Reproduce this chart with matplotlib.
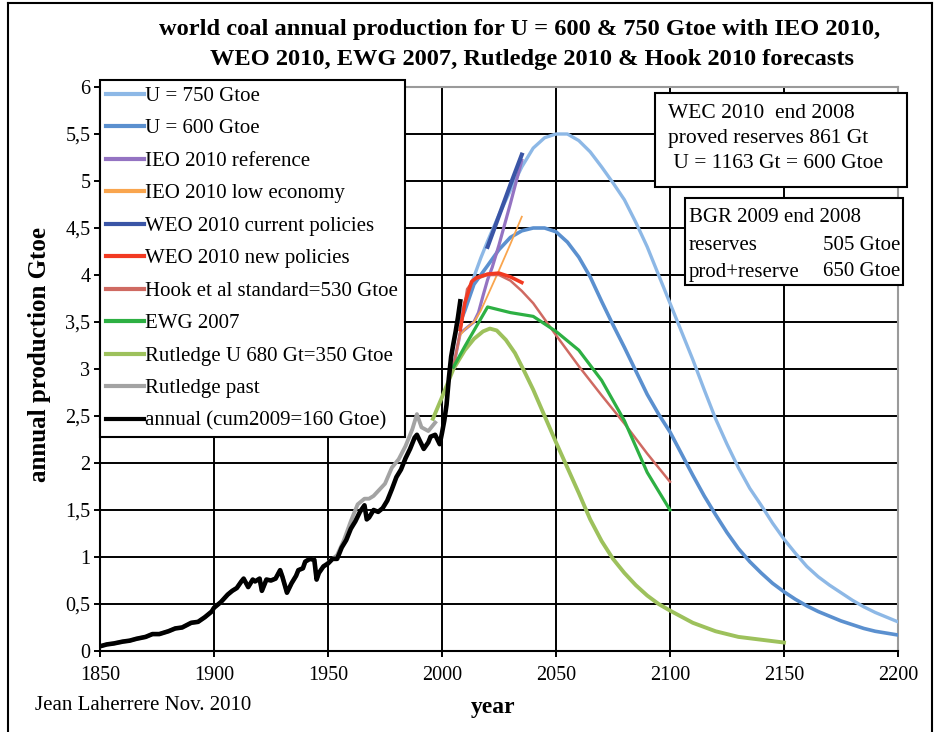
import numpy as np
import matplotlib
matplotlib.use("Agg")
import matplotlib.pyplot as plt
from matplotlib.ticker import FuncFormatter, MultipleLocator
from matplotlib.patches import Rectangle
from matplotlib.lines import Line2D

plt.rcParams['font.family'] = ['Liberation Serif', 'DejaVu Serif']

# ---- data ----
u750_years = [2008, 2010, 2014, 2017, 2020, 2025, 2030, 2035, 2040, 2045, 2050, 2055, 2060, 2065,
              2070, 2075, 2080, 2085, 2090, 2095, 2100, 2105, 2110, 2115, 2120, 2125, 2130, 2135,
              2140, 2145, 2150, 2155, 2160, 2165, 2170, 2175, 2180, 2185, 2190, 2195, 2200]
u750_vals = [3.55, 3.70, 3.98, 4.18, 4.36, 4.64, 4.90, 5.15, 5.35, 5.46, 5.50, 5.50, 5.43, 5.31,
             5.15, 4.98, 4.80, 4.56, 4.30, 4.00, 3.70, 3.40, 3.10, 2.78, 2.47, 2.20, 1.95, 1.73,
             1.55, 1.36, 1.19, 1.04, 0.90, 0.79, 0.70, 0.62, 0.54, 0.47, 0.41, 0.36, 0.31]

u600_years = [2008, 2010, 2014, 2020, 2025, 2030, 2035, 2040, 2045, 2050, 2055, 2060, 2065, 2070,
              2075, 2080, 2085, 2090, 2095, 2100, 2105, 2110, 2115, 2120, 2125, 2130, 2135, 2140,
              2145, 2150, 2155, 2160, 2165, 2170, 2175, 2180, 2185, 2190, 2195, 2200]
u600_vals = [3.50, 3.62, 3.90, 4.10, 4.27, 4.40, 4.47, 4.50, 4.50, 4.46, 4.35, 4.19, 3.98, 3.72,
             3.47, 3.23, 2.98, 2.73, 2.52, 2.33, 2.10, 1.87, 1.65, 1.45, 1.26, 1.09, 0.95, 0.83,
             0.72, 0.63, 0.55, 0.48, 0.42, 0.37, 0.32, 0.28, 0.24, 0.21, 0.19, 0.17]

ieo_ref_years = [2005, 2008, 2010, 2014, 2016, 2018, 2020, 2022, 2025, 2030, 2035]
ieo_ref_vals = [3.02, 3.38, 3.42, 3.50, 3.60, 3.78, 3.95, 4.08, 4.32, 4.76, 5.22]

ieo_low_years = [2005, 2008, 2010, 2014, 2017, 2020, 2025, 2030, 2035]
ieo_low_vals = [3.02, 3.36, 3.42, 3.50, 3.62, 3.78, 4.05, 4.33, 4.62]

weo_cur_years = [2020, 2025, 2030, 2035]
weo_cur_vals = [4.30, 4.63, 4.96, 5.28]

weo_new_years = [2008, 2010, 2013, 2015, 2020, 2025, 2030, 2035]
weo_new_vals = [3.42, 3.70, 3.93, 3.97, 4.01, 4.02, 3.98, 3.92]

hook_years = [2005, 2008, 2011, 2014, 2020, 2025, 2030, 2035, 2040, 2045, 2050, 2060, 2070,
              2080, 2090, 2100]
hook_vals = [3.02, 3.40, 3.85, 3.95, 4.00, 4.00, 3.94, 3.83, 3.70, 3.53, 3.36, 3.03, 2.72,
             2.42, 2.10, 1.80]

ewg_years = [2005, 2010, 2015, 2020, 2030, 2040, 2050, 2060, 2070, 2080, 2090, 2100]
ewg_vals = [3.02, 3.24, 3.45, 3.66, 3.60, 3.56, 3.40, 3.20, 2.88, 2.45, 1.90, 1.50]

rut_years = [1996, 2000, 2005, 2010, 2014, 2018, 2021, 2024, 2028, 2032, 2036, 2040, 2045, 2050,
             2055, 2060, 2065, 2070, 2075, 2080, 2085, 2090, 2095, 2100, 2110, 2120, 2130, 2140, 2150]
rut_vals = [2.47, 2.70, 3.00, 3.20, 3.32, 3.40, 3.43, 3.41, 3.31, 3.17, 2.98, 2.78, 2.50, 2.22,
            1.95, 1.68, 1.40, 1.17, 0.98, 0.83, 0.70, 0.59, 0.50, 0.43, 0.30, 0.21, 0.15, 0.12, 0.09]

annual_years = [1850, 1853, 1856, 1860, 1863, 1866, 1870, 1873, 1876, 1880, 1883, 1886, 1890, 1893,
                1896, 1899, 1900, 1903, 1906, 1908, 1910, 1912, 1913, 1915, 1917, 1918, 1920, 1921,
                1923, 1925, 1927, 1929, 1930, 1932, 1934, 1936, 1937, 1939, 1940, 1942, 1944, 1945,
                1946, 1948, 1950, 1952, 1954, 1956, 1958, 1960, 1962, 1964, 1966, 1967, 1968, 1970,
                1972, 1974, 1976, 1978, 1980, 1982, 1984, 1986, 1988, 1989, 1990, 1992, 1994, 1995,
                1997, 1999, 2000, 2001, 2002, 2003, 2004, 2005, 2006, 2007, 2008]
annual_vals = [0.05, 0.07, 0.08, 0.10, 0.11, 0.13, 0.15, 0.18, 0.18, 0.21, 0.24, 0.25, 0.30, 0.31,
               0.36, 0.42, 0.46, 0.52, 0.60, 0.64, 0.67, 0.74, 0.77, 0.68, 0.76, 0.74, 0.77, 0.64,
               0.76, 0.75, 0.77, 0.86, 0.79, 0.62, 0.72, 0.80, 0.86, 0.88, 0.95, 0.98, 0.97, 0.76,
               0.83, 0.90, 0.93, 0.98, 0.98, 1.10, 1.18, 1.30, 1.38, 1.48, 1.55, 1.40, 1.42, 1.50,
               1.48, 1.52, 1.60, 1.72, 1.85, 1.93, 2.05, 2.15, 2.27, 2.30, 2.25, 2.15, 2.22, 2.28,
               2.30, 2.20, 2.32, 2.45, 2.62, 2.90, 3.13, 3.27, 3.40, 3.55, 3.72]

# Rutledge past: follows the annual series up to 1950, then a bit higher
past_years = annual_years[:44] + [1954, 1957, 1960, 1963, 1966, 1968, 1970, 1975, 1978, 1981,
                                  1984, 1987, 1989, 1991, 1994, 1997]
past_vals = annual_vals[:44] + [1.02, 1.18, 1.38, 1.56, 1.62, 1.62, 1.65, 1.78, 1.95, 2.04,
                                2.18, 2.36, 2.52, 2.38, 2.34, 2.43]

# ---- figure ----
fig = plt.figure(figsize=(9.4, 7.32), dpi=100)
ax = fig.add_axes([100 / 940, 1 - 651 / 732, 798 / 940, 564 / 732])

ax.plot(u750_years, u750_vals, color='#8DB8E6', lw=2.4, zorder=3, label='U = 750 Gtoe')
ax.plot(u600_years, u600_vals, color='#5B90CF', lw=2.6, zorder=3, label='U = 600 Gtoe')
ax.plot(ieo_ref_years, ieo_ref_vals, color='#9473C2', lw=2.3, zorder=4, label='IEO 2010 reference')
ax.plot(ieo_low_years, ieo_low_vals, color='#F9A54E', lw=1.3, zorder=4, label='IEO 2010 low economy')
ax.plot(weo_cur_years, weo_cur_vals, color='#3A55A6', lw=3.0, zorder=5, label='WEO 2010 current policies')
ax.plot(weo_new_years, weo_new_vals, color='#F23A22', lw=2.6, zorder=5, label='WEO 2010 new policies')
ax.plot(hook_years, hook_vals, color='#CF6A62', lw=1.8, zorder=4, label='Hook et al standard=530 Gtoe')
ax.plot(ewg_years, ewg_vals, color='#2DB043', lw=2.3, zorder=4, label='EWG 2007')
ax.plot(rut_years, rut_vals, color='#9DC15C', lw=2.8, zorder=3, label='Rutledge U 680 Gt=350 Gtoe')
ax.plot(past_years, past_vals, color='#A3A3A3', lw=2.8, zorder=5, label='Rutledge past')
ax.plot(annual_years, annual_vals, color='black', lw=3.3, zorder=6, label='annual (cum2009=160 Gtoe)')

ax.set_xlim(1850, 2200)
ax.set_ylim(0, 6)
ax.xaxis.set_major_locator(MultipleLocator(50))
ax.yaxis.set_major_locator(MultipleLocator(0.5))
ax.yaxis.set_major_formatter(FuncFormatter(lambda v, p: ('%g' % v).replace('.', ',')))
ax.grid(True, color='black', lw=1.4, zorder=1)
ax.set_axisbelow(True)
ax.tick_params(direction='out', length=4, width=1.4, labelsize=14.5, colors='black')
ax.tick_params(axis='x', pad=7)
ax.tick_params(axis='y', pad=3)
for side in ['left', 'bottom']:
    ax.spines[side].set_color('black')
    ax.spines[side].set_linewidth(1.5)
for side in ['top', 'right']:
    ax.spines[side].set_color('#9A9A9A')
    ax.spines[side].set_linewidth(1.5)

fig.text(40 / 940, 1 - 355 / 732, 'annual production Gtoe', fontsize=18, fontweight='bold',
         rotation=90, ha='center', va='center')
fig.text(493 / 940, 1 - 708 / 732, 'year', fontsize=17, fontweight='bold', ha='center', va='center')
fig.text(35 / 940, 1 - 705 / 732, 'Jean Laherrere Nov. 2010', fontsize=15, ha='left', va='center')

fig.text(520 / 940, 1 - 30 / 732, 'world coal annual production for U = 600 & 750 Gtoe with IEO 2010,',
         fontsize=17.6, fontweight='bold', ha='center', va='center')
fig.text(532 / 940, 1 - 59 / 732, 'WEO 2010, EWG 2007, Rutledge 2010 & Hook 2010 forecasts',
         fontsize=17.6, fontweight='bold', ha='center', va='center')

leg = fig.legend(*ax.get_legend_handles_labels(), loc='upper left',
                 bbox_to_anchor=(100 / 940, 1 - 80 / 732), bbox_transform=fig.transFigure,
                 fontsize=15, frameon=True, fancybox=False, framealpha=1, edgecolor='black',
                 handlelength=1.8, handletextpad=0.08, labelspacing=0.62, borderpad=0.3,
                 borderaxespad=0)
leg.get_frame().set_linewidth(1.5)
for h in leg.get_lines():
    h.set_linewidth(3)
leg.set_zorder(10)

# reserve boxes
fig.patches.append(Rectangle((655 / 940, 1 - 187 / 732), 252 / 940, 94 / 732, transform=fig.transFigure,
                             facecolor='white', edgecolor='black', lw=1.5, zorder=10))
fig.text(668 / 940, 1 - 114 / 732, 'WEC 2010  end 2008', fontsize=15.5, va='center', zorder=11)
fig.text(668 / 940, 1 - 139 / 732, 'proved reserves 861 Gt', fontsize=15.5, va='center', zorder=11)
fig.text(668 / 940, 1 - 164 / 732, ' U = 1163 Gt = 600 Gtoe', fontsize=15.5, va='center', zorder=11)

fig.patches.append(Rectangle((685 / 940, 1 - 285 / 732), 218 / 940, 87 / 732, transform=fig.transFigure,
                             facecolor='white', edgecolor='black', lw=1.5, zorder=10))
fig.text(689 / 940, 1 - 217 / 732, 'BGR 2009 end 2008', fontsize=15, va='center', zorder=11)
fig.text(689 / 940, 1 - 245 / 732, 'reserves', fontsize=15, va='center', zorder=11)
fig.text(900 / 940, 1 - 245 / 732, '505 Gtoe', fontsize=15, va='center', ha='right', zorder=11)
fig.text(689 / 940, 1 - 272 / 732, 'prod+reserve', fontsize=15, va='center', zorder=11)
fig.text(900 / 940, 1 - 272 / 732, '650 Gtoe', fontsize=15, va='center', ha='right', zorder=11)

# outer chart border
for xs, ys in [([8, 8], [732, 3]), ([8, 932], [3, 3]), ([932, 932], [3, 732])]:
    fig.add_artist(Line2D([x / 940 for x in xs], [1 - y / 732 for y in ys], color='black', lw=1.5,
                          transform=fig.transFigure))

fig.savefig('out.png', dpi=100)
